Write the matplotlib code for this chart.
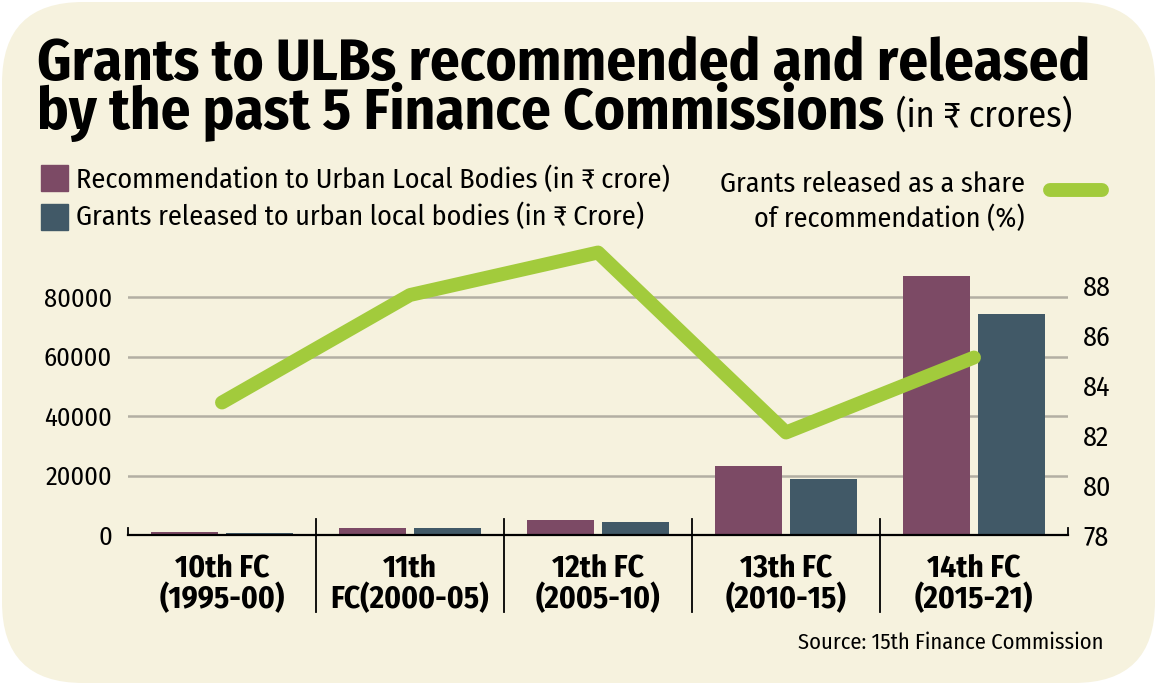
import matplotlib
matplotlib.use("Agg")
import matplotlib.pyplot as plt
from matplotlib import font_manager as fm
from matplotlib.patches import FancyBboxPatch, Rectangle
from matplotlib.lines import Line2D
import numpy as np

# data
categories = ["10th FC\n(1995-00)", "11th\nFC(2000-05)", "12th FC\n(2005-10)",
              "13th FC\n(2010-15)", "14th FC\n(2015-21)"]
recommended = [1000, 2500, 5000, 23111, 87144]
released = [833, 2190, 4470, 18980, 74190]
share_pct = [83.3, 87.6, 89.3, 82.1, 85.1]
left_ticks = [0, 20000, 40000, 60000, 80000]
right_ticks = [78, 80, 82, 84, 86, 88]

BG = "#f6f2de"
PURPLE = "#7c4a65"
SLATE = "#415967"
GREEN = "#a2cb3c"
GRID = "#b3afa3"

have = set(f.name for f in fm.fontManager.ttflist)
pick = [n for n in ["Fira Sans Condensed", "Fira Sans Extra Condensed",
                    "IBM Plex Sans Condensed", "Roboto Condensed"] if n in have]
FONT = pick[:1] + ["Noto Sans", "DejaVu Sans"]

W, H = 1157, 685
fig = plt.figure(figsize=(W / 100, H / 100), dpi=100)
fig.patch.set_facecolor("white")

def fx(x):
    return x / W

def fy(y):
    return 1 - y / H

bg = FancyBboxPatch((fx(2), fy(683)), fx(1153), 1 - 4 / H,
                    boxstyle="round,pad=0,rounding_size=0.07",
                    transform=fig.transFigure, facecolor=BG, edgecolor="none",
                    mutation_aspect=W / H, zorder=-10)
fig.patches.append(bg)

ax = fig.add_axes([fx(128), fy(535), fx(1068 - 128), (535 - 250) / H])
ax.set_facecolor("none")
ax2 = ax.twinx()

x = np.arange(len(categories))
bw = 0.36
off = 0.2
ax.bar(x - off, recommended, bw, color=PURPLE, zorder=3)
ax.bar(x + off, released, bw, color=SLATE, zorder=3)

ax.set_xlim(-0.5, 4.5)
ax.set_ylim(0, (535 - 250) / 59.5 * 20000)
ax.set_yticks(left_ticks)
ax.set_yticklabels([str(v) for v in left_ticks], family=FONT, fontsize=19)
for v in left_ticks[1:]:
    ax.axhline(v, color=GRID, lw=1.8, zorder=1)
ax.tick_params(axis="y", length=0, pad=11.5)
ax.set_xticks([])
for s in ["left", "right", "top"]:
    ax.spines[s].set_visible(False)
ax.spines["bottom"].set_linewidth(1.6)
ax.spines["bottom"].set_zorder(4)

# separators and end ticks
for b in np.arange(0.5, 4.5, 1.0):
    ax.plot([b, b], [0.055, -0.27], color="black", lw=1.3,
            transform=ax.get_xaxis_transform(), clip_on=False)
for b in [-0.5, 4.5]:
    ax.plot([b, b], [0.0, 0.025], color="black", lw=1.3,
            transform=ax.get_xaxis_transform(), clip_on=False)

for i, lab in enumerate(categories):
    ax.text(i, -0.065, lab, transform=ax.get_xaxis_transform(), ha="center",
            va="top", family=FONT, fontweight="bold", fontsize=22.5,
            linespacing=1.0)

ax2.plot(x, share_pct, color=GREEN, lw=10, solid_capstyle="round",
         solid_joinstyle="round", zorder=5, clip_on=False)
ax2.set_ylim(78, 78 + 285 / 25)
ax2.set_yticks(right_ticks)
ax2.set_yticklabels([str(v) for v in right_ticks], family=FONT, fontsize=20)
ax2.tick_params(axis="y", length=0, pad=11)
for s in ["left", "right", "top", "bottom"]:
    ax2.spines[s].set_visible(False)

# title
fig.text(fx(37), fy(80), "Grants to ULBs recommended and released",
         family=FONT, fontweight="bold", fontsize=42.3, va="baseline")
t2 = fig.text(fx(37), fy(129), "by the past 5 Finance Commissions",
              family=FONT, fontweight="bold", fontsize=42.3, va="baseline")
r = fig.canvas.get_renderer()
end = t2.get_window_extent(r).x1
fig.text(max(fx(885), end / W + fx(12)), fy(127), "(in ₹ crores)",
         family=FONT, fontsize=26, va="baseline")

# legend
fig.patches.append(Rectangle((fx(41), fy(191)), fx(27), 26 / H, color=PURPLE,
                             transform=fig.transFigure))
fig.patches.append(Rectangle((fx(41), fy(230)), fx(27), 26 / H, color=SLATE,
                             transform=fig.transFigure))
fig.text(fx(76), fy(180), "Recommendation to Urban Local Bodies (in ₹ crore)",
         family=FONT, fontsize=20.3, va="center")
fig.text(fx(76), fy(217), "Grants released to urban local bodies (in ₹ Crore)",
         family=FONT, fontsize=20.3, va="center")
fig.text(fx(1025), fy(184), "Grants released as a share", family=FONT,
         fontsize=20.2, va="center", ha="right")
fig.text(fx(1025), fy(219), "of recommendation (%)", family=FONT,
         fontsize=20.2, va="center", ha="right")
fig.lines.append(Line2D([fx(1050), fx(1102)], [fy(190), fy(190)],
                        transform=fig.transFigure, color=GREEN, lw=10,
                        solid_capstyle="round"))

fig.text(fx(1103), fy(643), "Source: 15th Finance Commission", family=FONT,
         fontsize=16.2, va="center", ha="right")

fig.savefig("out.png", dpi=100, facecolor=fig.get_facecolor())
